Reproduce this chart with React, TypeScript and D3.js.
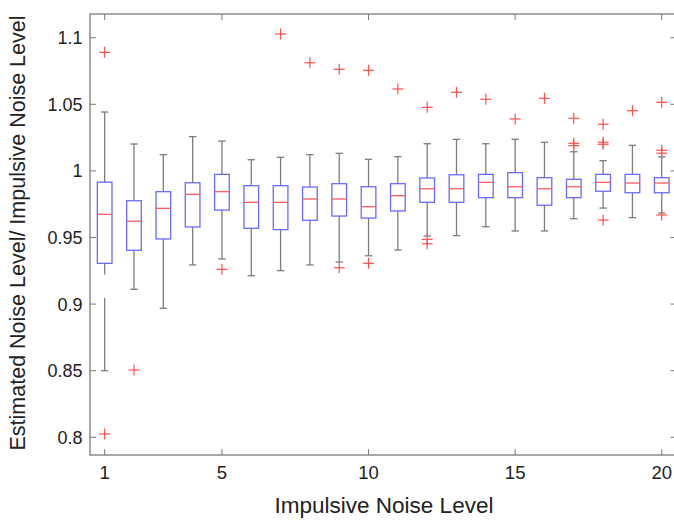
import React from "react";
import * as d3 from "d3";

const categories = [1, 2, 3, 4, 5, 6, 7, 8, 9, 10, 11, 12, 13, 14, 15, 16, 17, 18, 19, 20];
const whiskerLow = [0.85, 0.9111, 0.8968, 0.9294, 0.9339, 0.9213, 0.9251, 0.9294, 0.9316, 0.9363, 0.9406, 0.9511, 0.9514, 0.9581, 0.9549, 0.9549, 0.9641, 0.9721, 0.9649, 0.9684];
const q1 = [0.9306, 0.9404, 0.9489, 0.9579, 0.9706, 0.9569, 0.9559, 0.9629, 0.9661, 0.9646, 0.9699, 0.9764, 0.9764, 0.9799, 0.9799, 0.9742, 0.9799, 0.9847, 0.9836, 0.9836];
const median = [0.9674, 0.9622, 0.9719, 0.9824, 0.9844, 0.9764, 0.9764, 0.9789, 0.9789, 0.9731, 0.9814, 0.9866, 0.9866, 0.9914, 0.9881, 0.9866, 0.9881, 0.9914, 0.9909, 0.9909];
const q3 = [0.9915, 0.9776, 0.9844, 0.9911, 0.9974, 0.9889, 0.9889, 0.9879, 0.9904, 0.9881, 0.9904, 0.9947, 0.9971, 0.9974, 0.9987, 0.9949, 0.9937, 0.9974, 0.9974, 0.9949];
const whiskerHigh = [1.0442, 1.0202, 1.0122, 1.0257, 1.0224, 1.0084, 1.0102, 1.0122, 1.0132, 1.0087, 1.0107, 1.0204, 1.0237, 1.0204, 1.0237, 1.0215, 1.0144, 1.0077, 1.0192, 1.0105];
// [category, lower end of gap, upper end of gap] in a whisker line
const whiskerGaps: [number, number, number][] = [[1, 0.9045, 0.9222]];
const outliers: [number, number][] = [
  [1, 1.089], [1, 0.8025], [2, 0.8505], [5, 0.9261], [7, 1.1028], [8, 1.0812],
  [9, 1.0763], [9, 0.9273], [10, 1.0755], [10, 0.9306], [11, 1.0615],
  [12, 1.0477], [12, 0.9486], [12, 0.9453], [13, 1.059], [14, 1.0538],
  [15, 1.039], [16, 1.0545], [17, 1.0395], [17, 1.0207], [17, 1.019],
  [18, 1.035], [18, 1.0215], [18, 1.02], [18, 0.9631], [19, 1.0452],
  [20, 1.0515], [20, 1.0155], [20, 1.0133], [20, 0.9669],
];
const xTicks = [1, 5, 10, 15, 20];
const yTicks = [0.8, 0.85, 0.9, 0.95, 1, 1.05, 1.1];
const xLabel = "Impulsive Noise Level";
const yLabel = "Estimated Noise Level/ Impulsive Noise Level";

const W = 674;
const H = 520;
const left = 90, right = 676.4, top = 14, bottom = 455;

export default function App() {
  const x = d3.scaleLinear().domain([0.5, 20.5]).range([left, right]);
  const y = d3.scaleLinear().domain([0.7867, 1.1178]).range([bottom, top]);
  const bw = (x(1.25) - x(0.75));
  const cw = (x(1.125) - x(0.875));
  const whiskerColor = "#7d7d7d";
  const boxColor = "#6a6aff";
  const medColor = "#ff5c5c";
  const axisColor = "#7a7a7a";
  const font = "Arial, 'Liberation Sans', sans-serif";
  const fmt = (v: number) => d3.format("")(+v.toFixed(2));

  return (
    <svg width={W} height={H} style={{ position: "absolute", left: 0, top: 0, background: "#fff" }} fontFamily={font}>
      {categories.map((c, i) => {
        const cx = x(c);
        const gap = whiskerGaps.find((g) => g[0] === c);
        return (
          <g key={c}>
            <line x1={cx} x2={cx} y1={y(q3[i])} y2={y(whiskerHigh[i])} stroke={whiskerColor} strokeWidth={1.3} />
            <line x1={cx - cw / 2} x2={cx + cw / 2} y1={y(whiskerHigh[i])} y2={y(whiskerHigh[i])} stroke={whiskerColor} strokeWidth={1.3} />
            {gap ? (
              <>
                <line x1={cx} x2={cx} y1={y(q1[i])} y2={y(gap[2])} stroke={whiskerColor} strokeWidth={1.3} />
                <line x1={cx} x2={cx} y1={y(gap[1])} y2={y(whiskerLow[i])} stroke={whiskerColor} strokeWidth={1.3} />
              </>
            ) : (
              <line x1={cx} x2={cx} y1={y(q1[i])} y2={y(whiskerLow[i])} stroke={whiskerColor} strokeWidth={1.3} />
            )}
            <line x1={cx - cw / 2} x2={cx + cw / 2} y1={y(whiskerLow[i])} y2={y(whiskerLow[i])} stroke={whiskerColor} strokeWidth={1.3} />
            <rect x={cx - bw / 2} y={y(q3[i])} width={bw} height={y(q1[i]) - y(q3[i])} fill="none" stroke={boxColor} strokeWidth={1.3} />
            <line x1={cx - bw / 2} x2={cx + bw / 2} y1={y(median[i])} y2={y(median[i])} stroke={medColor} strokeWidth={1.3} />
          </g>
        );
      })}
      {outliers.map(([c, v], k) => {
        const px = x(c), py = y(v), r = 5.5;
        return (
          <g key={"o" + k} stroke="#ff4f4f" strokeWidth={1.2}>
            <line x1={px - r} x2={px + r} y1={py} y2={py} />
            <line x1={px} x2={px} y1={py - r} y2={py + r} />
          </g>
        );
      })}
      <rect x={left} y={top} width={right - left} height={bottom - top} fill="none" stroke={axisColor} strokeWidth={1.3} />
      {xTicks.map((t) => (
        <g key={"xt" + t}>
          <line x1={x(t)} x2={x(t)} y1={bottom} y2={bottom - 6} stroke={axisColor} strokeWidth={1} />
          <line x1={x(t)} x2={x(t)} y1={top} y2={top + 6} stroke={axisColor} strokeWidth={1} />
          <text x={x(t)} y={478.5} textAnchor="middle" fontSize={18.5} fill="#222">{t}</text>
        </g>
      ))}
      {yTicks.map((t) => (
        <g key={"yt" + t}>
          <line x1={left} x2={left + 6} y1={y(t)} y2={y(t)} stroke={axisColor} strokeWidth={1} />
          <line x1={right} x2={right - 6} y1={y(t)} y2={y(t)} stroke={axisColor} strokeWidth={1} />
          <text x={82.5} y={y(t)} dy="0.36em" textAnchor="end" fontSize={18} fill="#222">{fmt(t)}</text>
        </g>
      ))}
      <text x={384} y={513} textAnchor="middle" fontSize={22.5} fill="#222">{xLabel}</text>
      <text transform={`translate(25, 233) rotate(-90)`} textAnchor="middle" fontSize={21.5} fill="#222">{yLabel}</text>
    </svg>
  );
}
